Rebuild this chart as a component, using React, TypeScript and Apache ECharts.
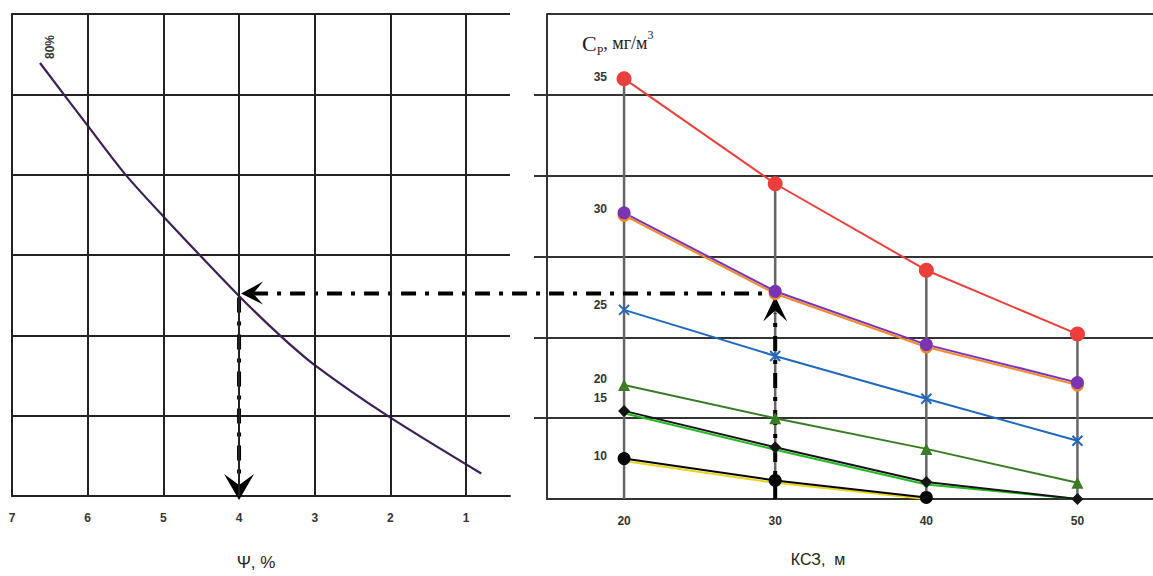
import React, { useEffect, useRef } from 'react';
import * as echarts from 'echarts';

// ---- data (axis units) ----
const psiTicks = [1, 2, 3, 4, 5, 6, 7];
const curvePsi = [6.63, 6.0, 5.5, 5.0, 4.0, 3.46, 3.0, 2.04, 0.8];
const curveLevel = [53.9, 46.1, 40.0, 34.8, 24.9, 20.0, 16.3, 10.0, 2.8];

const kszValues = [20, 30, 40, 50];
const sRed = [52.0, 39.0, 28.3, 20.4];
const sOrange = [35.1, 25.4, 18.8, 14.1];
const sPurple = [35.4, 25.7, 19.1, 14.4];
const sBlue = [23.4, 17.7, 12.4, 7.2];
const sGreen = [14.1, 10.0, 6.2, 2.0];
const sLightGreen = [10.6, 6.1, 1.8, 0.0];
const sDiamond = [10.9, 6.4, 2.1, 0.0];
const sYellow = [4.7, 2.0, 0.0, null];
const sCircle = [5.0, 2.3, 0.2, null];

const cpTickLabels = ['35', '30', '25', '20', '15', '10'];
const cpTickAt = [52.2, 35.9, 24.0, 14.8, 12.5, 5.3];
const levelGrid = [0, 10, 20, 30, 40, 50, 60];

const lookupKsz = 30;
const lookupPsi = 4;
const lookupLevel = 25.2;

const pair = (xs: number[], ys: (number | null)[]) => xs.map((x, i) => [x, ys[i]]);

export default function App() {
  const ref = useRef<HTMLDivElement>(null);
  useEffect(() => {
    if (!ref.current) return;
    const chart = echarts.init(ref.current, undefined, { renderer: 'svg' });
    const tickFont = { fontFamily: 'Liberation Sans, Arial', fontSize: 12, fontWeight: 'bold' as const, color: '#333' };
    const lineSeries = (name: string, data: any[], color: string, symbol: string, size: number, extra: any = {}) => ({
      type: 'line', name, xAxisIndex: 1, yAxisIndex: 1, data, clip: false,
      symbol, symbolSize: size, showSymbol: symbol !== 'none',
      lineStyle: { color, width: 2 }, itemStyle: { color }, ...extra,
    });
    const serif = { fontFamily: 'Liberation Serif', color: '#222', fontWeight: 'normal' as const };
    const topLine = levelGrid[levelGrid.length - 1];
    chart.setOption({
      animation: false,
      backgroundColor: '#fff',
      title: {
        left: 577, top: 24,
        text: '{c|C}{s|Р}{t|, мг/м}{u|3}',
        textStyle: {
          fontWeight: 'normal',
          rich: {
            c: { ...serif, fontSize: 22, lineHeight: 28 },
            s: { ...serif, fontSize: 12, lineHeight: 11, verticalAlign: 'bottom' },
            t: { ...serif, fontSize: 18, lineHeight: 28 },
            u: { ...serif, fontSize: 12, lineHeight: 12, verticalAlign: 'top' },
          },
        },
      },
      grid: [
        { left: 12, top: 14, width: 498, height: 485 },
        { left: 547, top: 14, width: 606, height: 485 },
      ],
      xAxis: [
        {
          type: 'value', gridIndex: 0, min: 0.42, max: 7, inverse: true,
          name: 'Ψ, %', nameLocation: 'middle', nameGap: 58,
          nameTextStyle: { fontFamily: 'Liberation Sans, Arial', fontSize: 17, color: '#222', padding: [0, 10, 0, 0] },
          axisLine: { show: true, lineStyle: { color: '#222', width: 2 } },
          axisTick: { show: false },
          splitLine: { show: false },
          axisLabel: { ...tickFont, margin: 16, customValues: psiTicks },
        },
        {
          type: 'value', gridIndex: 1, min: 14.9, max: 55,
          name: 'КСЗ,  м', nameLocation: 'middle', nameGap: 52,
          nameTextStyle: { fontFamily: 'Liberation Sans, Arial', fontSize: 16, color: '#222', padding: [0, 64, 0, 0] },
          axisLine: { show: true, lineStyle: { color: '#333', width: 2 } },
          axisTick: { show: false },
          splitLine: { show: false },
          axisLabel: { ...tickFont, margin: 16, customValues: kszValues },
        },
      ],
      yAxis: [
        {
          type: 'value', gridIndex: 0, min: 0, max: 60, interval: 10,
          axisLine: { show: true, lineStyle: { color: '#222', width: 2 } },
          axisTick: { show: false },
          axisLabel: { show: false },
          splitLine: { show: true, lineStyle: { color: '#222', width: 2 } },
        },
        {
          type: 'value', gridIndex: 1, min: 0, max: 60, interval: 10,
          axisLine: { show: true, lineStyle: { color: '#333', width: 2 } },
          axisTick: { show: true, inside: false, length: 13, customValues: levelGrid.slice(1, -1), lineStyle: { color: '#333', width: 2 } },
          axisLabel: {
            ...tickFont, inside: true, align: 'right', margin: 60,
            customValues: cpTickAt,
            formatter: (v: number) => {
              let best = 0;
              cpTickAt.forEach((t, i) => { if (Math.abs(t - v) < Math.abs(cpTickAt[best] - v)) best = i; });
              return cpTickLabels[best];
            },
          },
          splitLine: { show: true, lineStyle: { color: '#333', width: 2 } },
        },
      ],
      series: [
        {
          type: 'line', xAxisIndex: 0, yAxisIndex: 0, z: 1,
          data: pair(curvePsi, curveLevel), symbol: 'none', lineStyle: { width: 0, opacity: 0 },
          markLine: {
            silent: true, symbol: ['none', 'none'], label: { show: false },
            lineStyle: { color: '#222', width: 2, type: 'solid' },
            data: [...psiTicks.map((v) => ({ xAxis: v })), { yAxis: topLine }],
          },
        },
        {
          type: 'line', xAxisIndex: 0, yAxisIndex: 0, z: 3, smooth: 0.3,
          data: pair(curvePsi, curveLevel), symbol: 'none',
          lineStyle: { color: '#3b1f56', width: 2.2 },
        },
        {
          type: 'bar', xAxisIndex: 1, yAxisIndex: 1, z: 1, barWidth: 2.5,
          data: pair(kszValues, sRed), itemStyle: { color: '#666' },
          markLine: {
            silent: true, symbol: ['none', 'none'], label: { show: false },
            lineStyle: { color: '#333', width: 2, type: 'solid' },
            data: [{ yAxis: topLine }],
          },
        },
        lineSeries('red', pair(kszValues, sRed), '#ea3f3a', 'circle', 15),
        lineSeries('orange', pair(kszValues, sOrange), '#f28a26', 'circle', 13),
        lineSeries('purple', pair(kszValues, sPurple), '#7a33b3', 'circle', 13),
        lineSeries('blue', pair(kszValues, sBlue), '#1f68bd', 'path://M0,0 L10,10 M10,0 L0,10', 10, {
          itemStyle: { color: '#1f68bd', borderColor: '#1f68bd', borderWidth: 2 },
        }),
        lineSeries('green', pair(kszValues, sGreen), '#3a7b26', 'triangle', 12),
        lineSeries('lightgreen', pair(kszValues, sLightGreen), '#22b922', 'circle', 6),
        lineSeries('diamond', pair(kszValues, sDiamond), '#151515', 'diamond', 12),
        lineSeries('yellow', pair(kszValues, sYellow), '#e8d51c', 'none', 0),
        lineSeries('circle', pair(kszValues, sCircle), '#050505', 'circle', 13),
      ],
    });

    const pL = chart.convertToPixel({ gridIndex: 0 }, [lookupPsi, lookupLevel]) as number[];
    const pLb = chart.convertToPixel({ gridIndex: 0 }, [lookupPsi, 0]) as number[];
    const pR = chart.convertToPixel({ gridIndex: 1 }, [lookupKsz, lookupLevel]) as number[];
    const pRb = chart.convertToPixel({ gridIndex: 1 }, [lookupKsz, 0]) as number[];
    const curve0 = chart.convertToPixel({ gridIndex: 0 }, [curvePsi[0], curveLevel[0]]) as number[];
    const dash = { stroke: '#000', lineWidth: 4, lineDash: [15, 9, 4, 9] };
    const y = pL[1];
    chart.setOption({
      graphic: [
        { type: 'line', z: 2, shape: { x1: pL[0] + 14, y1: y, x2: pR[0] - 8, y2: y }, style: dash },
        {
          type: 'polygon', z: 2,
          shape: { points: [[pL[0] + 2, y], [pL[0] + 24, y - 12], [pL[0] + 14, y], [pL[0] + 24, y + 11]] },
          style: { fill: '#000' },
        },
        { type: 'line', z: 2, shape: { x1: pL[0], y1: y + 4, x2: pL[0], y2: pLb[1] - 14 }, style: dash },
        {
          type: 'polygon', z: 2,
          shape: { points: [[pL[0], pLb[1] + 4], [pL[0] - 15, pLb[1] - 22], [pL[0], pLb[1] - 11], [pL[0] + 15, pLb[1] - 22]] },
          style: { fill: '#000' },
        },
        { type: 'line', z: 2, shape: { x1: pR[0], y1: pRb[1], x2: pR[0], y2: y + 20 }, style: dash },
        {
          type: 'polygon', z: 2,
          shape: { points: [[pR[0], y + 3], [pR[0] - 12, y + 28], [pR[0], y + 17], [pR[0] + 12, y + 28]] },
          style: { fill: '#000' },
        },
        {
          type: 'text', z: 4, x: curve0[0] + 10, y: curve0[1] - 16, rotation: Math.PI / 2,
          style: { text: '80%', fontFamily: 'Liberation Sans, Arial', fontSize: 12, fontWeight: 'bold', fill: '#333', align: 'center', verticalAlign: 'middle' },
        },
      ],
    });
    return () => chart.dispose();
  }, []);
  return (
    <div
      ref={ref}
      style={{ position: 'fixed', left: 0, top: 0, width: 1153, height: 576, background: '#fff' }}
    />
  );
}
